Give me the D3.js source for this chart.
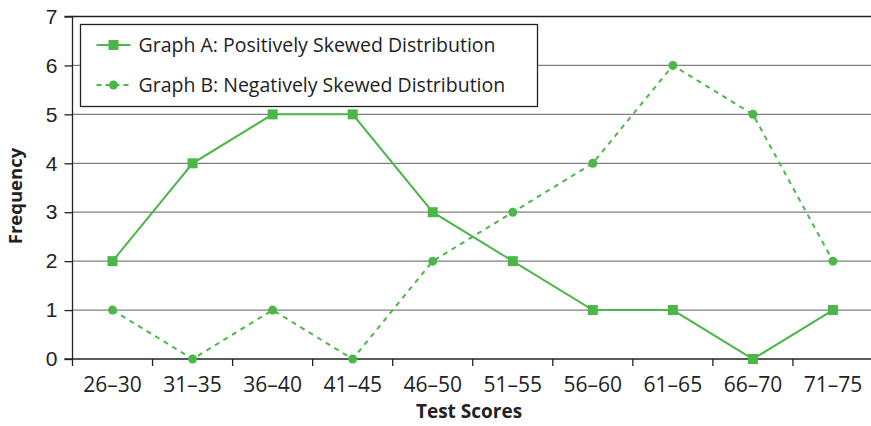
<!DOCTYPE html>
<html>
<head>
<meta charset="utf-8">
<script src="https://cdn.jsdelivr.net/npm/d3@7"></script>
<style>
  body { margin: 0; background: #fff; }
  svg { display: block; font-family: "Open Sans", "Noto Sans", sans-serif; }
</style>
</head>
<body>
<svg id="chart" width="871" height="426"></svg>
<script>
// Frequency polygons: positively vs negatively skewed test score distributions.

const categories = ["26–30", "31–35", "36–40", "41–45", "46–50", "51–55", "56–60", "61–65", "66–70", "71–75"];
const graphA = [2, 4, 5, 5, 3, 2, 1, 1, 0, 1];
const graphB = [1, 0, 1, 0, 2, 3, 4, 6, 5, 2];
const yTicks = [0, 1, 2, 3, 4, 5, 6, 7];

const series = [
  { name: "Graph A: Positively Skewed Distribution", values: graphA, dash: null, marker: "square" },
  { name: "Graph B: Negatively Skewed Distribution", values: graphB, dash: "5 5", marker: "circle" }
];

const green = "#4cb748";
const ink = "#222";
const tickSize = 21;

const svg = d3.select("#chart");
const margin = { top: 16.5, right: -2, bottom: 67, left: 72.5 };
const width = +svg.attr("width") - margin.left - margin.right;
const height = +svg.attr("height") - margin.top - margin.bottom;

const g = svg.append("g").attr("transform", `translate(${margin.left},${margin.top})`);

const x = d3.scaleBand().domain(categories).range([0, width]);
const y = d3.scaleLinear().domain([0, 7]).range([height, 0]);

// gridlines
g.selectAll(".grid")
  .data(yTicks.filter(t => t > 0))
  .join("line")
  .attr("x1", 0).attr("x2", width)
  .attr("y1", d => y(d)).attr("y2", d => y(d))
  .attr("stroke", d => d === 7 ? ink : "#808080")
  .attr("stroke-width", 1.3);

// y axis
const yAxis = g.append("g").call(d3.axisLeft(y).tickValues(yTicks).tickFormat(d3.format("d")).tickSize(8).tickPadding(7));
yAxis.select(".domain").attr("stroke", ink).attr("stroke-width", 1.3).attr("d", `M-8,0H0V${height}H-8`);
yAxis.selectAll(".tick line").attr("stroke", ink).attr("stroke-width", 1.3);
yAxis.selectAll(".tick text").attr("fill", ink).attr("font-size", tickSize).attr("font-family", null);

// x axis: ticks at band boundaries
const xAxis = g.append("g").attr("transform", `translate(0,${height})`);
xAxis.append("line").attr("x1", 0).attr("x2", width).attr("stroke", ink).attr("stroke-width", 1.3);
xAxis.selectAll(".xtick")
  .data(categories)
  .join("line")
  .attr("x1", d => x(d)).attr("x2", d => x(d))
  .attr("y1", 0).attr("y2", 7)
  .attr("stroke", ink).attr("stroke-width", 1.3);
xAxis.selectAll(".xlabel")
  .data(categories)
  .join("text")
  .attr("x", d => x(d) + x.bandwidth() / 2)
  .attr("y", 33)
  .attr("text-anchor", "middle")
  .attr("fill", ink)
  .attr("font-size", tickSize)
  .text(d => d);

// axis titles
svg.append("text")
  .attr("x", 469)
  .attr("y", 418)
  .attr("text-anchor", "middle")
  .attr("font-size", 19)
  .attr("font-weight", "bold")
  .attr("fill", ink)
  .text("Test Scores");

svg.append("text")
  .attr("transform", `translate(22,196) rotate(-90)`)
  .attr("text-anchor", "middle")
  .attr("font-size", 18.5)
  .attr("font-weight", "bold")
  .attr("fill", ink)
  .text("Frequency");

// lines and markers
const line = d3.line()
  .x((d, i) => x(categories[i]) + x.bandwidth() / 2)
  .y(d => y(d));

function drawMarker(sel, type, cx, cy) {
  if (type === "square") {
    sel.append("rect").attr("x", cx - 5).attr("y", cy - 5).attr("width", 10).attr("height", 10).attr("fill", green);
  } else {
    sel.append("circle").attr("cx", cx).attr("cy", cy).attr("r", 4.5).attr("fill", green);
  }
}

series.forEach(s => {
  g.append("path")
    .datum(s.values)
    .attr("fill", "none")
    .attr("stroke", green)
    .attr("stroke-width", 2)
    .attr("stroke-dasharray", s.dash)
    .attr("d", line);
  s.values.forEach((v, i) => {
    drawMarker(g, s.marker, x(categories[i]) + x.bandwidth() / 2, y(v));
  });
});

// legend
const legend = svg.append("g").attr("transform", "translate(80.5,24.5)");
legend.append("rect")
  .attr("width", 457).attr("height", 82)
  .attr("fill", "#fff").attr("stroke", ink).attr("stroke-width", 1.3);
series.forEach((s, i) => {
  const ly = 20.5 + i * 40;
  legend.append("line")
    .attr("x1", 16).attr("x2", 50).attr("y1", ly).attr("y2", ly)
    .attr("stroke", green).attr("stroke-width", 2)
    .attr("stroke-dasharray", s.dash ? "5 4" : null);
  drawMarker(legend, s.marker, 33, ly);
  legend.append("text")
    .attr("x", 58).attr("y", ly + 7)
    .attr("font-size", 19.5)
    .attr("fill", ink)
    .text(s.name);
});
</script>
</body>
</html>
